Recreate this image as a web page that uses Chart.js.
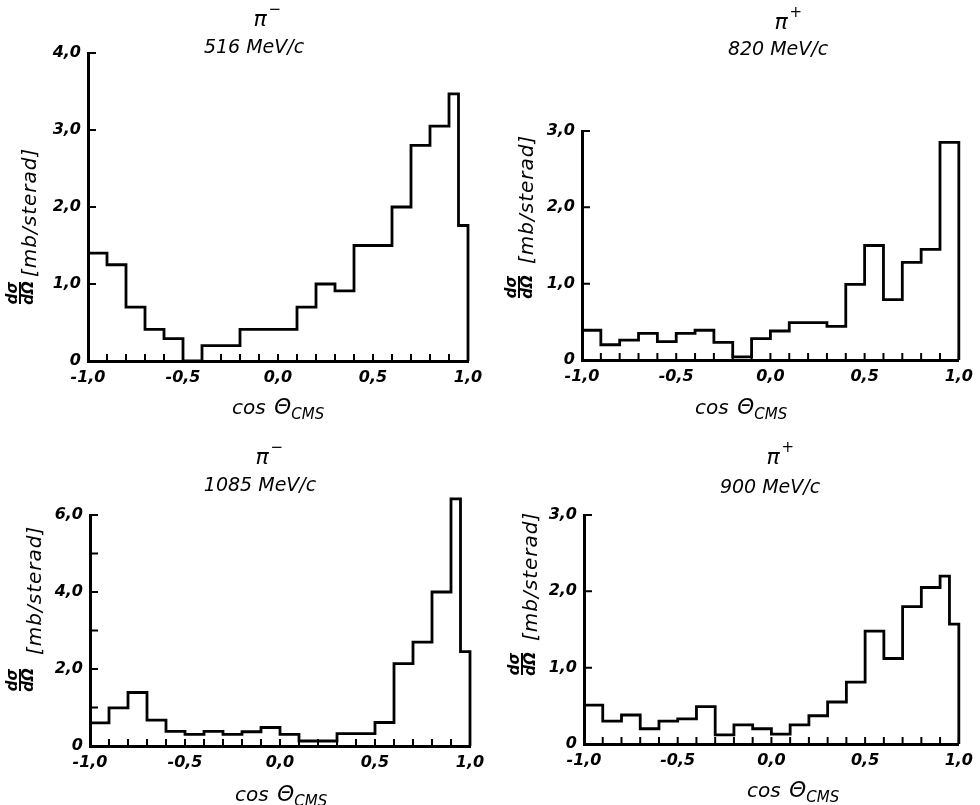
<!DOCTYPE html>
<html>
<head>
<meta charset="utf-8">
<script src="https://cdn.jsdelivr.net/npm/chart.js@4/dist/chart.umd.min.js"></script>
<style>
  body { margin: 0; background: #fff; }
  #wrap { position: relative; width: 980px; height: 805px; }
  canvas { position: absolute; left: 0; top: 0; }
</style>
</head>
<body>
<div id="wrap">
  <canvas id="p516" width="980" height="805"></canvas>
  <canvas id="p820" width="980" height="805"></canvas>
  <canvas id="p1085" width="980" height="805"></canvas>
  <canvas id="p900" width="980" height="805"></canvas>
</div>
<script>
// left edges of the bins (last two bins are half width)
const edgesFine = [-1.0, -0.9, -0.8, -0.7, -0.6, -0.5, -0.4, -0.3, -0.2, -0.1, 0.0,
                   0.1, 0.2, 0.3, 0.4, 0.5, 0.6, 0.7, 0.8, 0.9, 0.95];
const edgesEven = [-1.0, -0.9, -0.8, -0.7, -0.6, -0.5, -0.4, -0.3, -0.2, -0.1, 0.0,
                   0.1, 0.2, 0.3, 0.4, 0.5, 0.6, 0.7, 0.8, 0.9];

// dsigma/dOmega in mb/sterad
const vals516  = [1.40, 1.25, 0.70, 0.41, 0.29, 0.00, 0.20, 0.20, 0.41, 0.41, 0.41,
                  0.70, 1.00, 0.91, 1.50, 1.50, 2.00, 2.80, 3.05, 3.47, 1.76];
const vals820  = [0.39, 0.20, 0.26, 0.35, 0.24, 0.35, 0.39, 0.23, 0.04, 0.28,
                  0.38, 0.49, 0.49, 0.44, 0.99, 1.50, 0.79, 1.28, 1.45, 2.85];
const vals1085 = [0.60, 0.99, 1.39, 0.67, 0.38, 0.30, 0.38, 0.30, 0.37, 0.48, 0.30,
                  0.13, 0.13, 0.32, 0.32, 0.61, 2.14, 2.70, 4.00, 6.42, 2.45];
const vals900  = [0.51, 0.30, 0.38, 0.20, 0.30, 0.33, 0.49, 0.12, 0.25, 0.20, 0.13,
                  0.25, 0.37, 0.55, 0.81, 1.48, 1.12, 1.80, 2.05, 2.20, 1.57];

const xTickValues = [-1, -0.5, 0, 0.5, 1];
const xTickLabels = ['-1,0', '-0,5', '0,0', '0,5', '1,0'];
const yTickValues = [0, 1, 2, 3, 4, 5, 6];
const yTickLabels = ['0', '1,0', '2,0', '3,0', '4,0', '5,0', '6,0'];

const W = 980, H = 805;
const FONT = '"DejaVu Sans", "Liberation Sans", sans-serif';

const panels = {
  p516: {
    particle: 'π', sign: '−', momentum: '516 MeV/c',
    edges: edgesFine, values: vals516, yMax: 4, yLabelEvery: 1,
    area: { left: 88, top: 53, right: 468, bottom: 361 },
    title: { piX: 260, piY: 20, x: 254, y: 48 },
    xTitle: { x: 232, y: 414 },
    yTitle: { x: 36, bottom: 277, barX: 20, fracY: 293 }
  },
  p820: {
    particle: 'π', sign: '+', momentum: '820 MeV/c',
    edges: edgesEven, values: vals820, yMax: 3, yLabelEvery: 1,
    area: { left: 582, top: 131, right: 959, bottom: 360 },
    title: { piX: 781, piY: 23, x: 778, y: 50 },
    xTitle: { x: 695, y: 414 },
    yTitle: { x: 533, bottom: 264, barX: 519, fracY: 287 }
  },
  p1085: {
    particle: 'π', sign: '−', momentum: '1085 MeV/c',
    edges: edgesFine, values: vals1085, yMax: 6, yLabelEvery: 2,
    area: { left: 90, top: 515, right: 470, bottom: 746 },
    title: { piX: 262, piY: 458, x: 260, y: 486 },
    xTitle: { x: 235, y: 801 },
    yTitle: { x: 41, bottom: 655, barX: 20, fracY: 680 }
  },
  p900: {
    particle: 'π', sign: '+', momentum: '900 MeV/c',
    edges: edgesFine, values: vals900, yMax: 3, yLabelEvery: 1,
    area: { left: 584, top: 515, right: 962, bottom: 744 },
    title: { piX: 773, piY: 458, x: 770, y: 488 },
    xTitle: { x: 747, y: 797 },
    yTitle: { x: 537, bottom: 641, barX: 522, fracY: 664 }
  }
};

function labelFor(values, labels, v) {
  const i = values.findIndex(t => Math.abs(t - v) < 1e-6);
  return i < 0 ? '' : labels[i];
}

// small tick marks pointing into the plot
const inwardTicks = {
  id: 'inwardTicks',
  afterDatasetsDraw(chart) {
    const { ctx, chartArea, scales } = chart;
    ctx.save();
    ctx.strokeStyle = '#000';
    ctx.lineWidth = 2;
    ctx.beginPath();
    scales.x.ticks.forEach(t => {
      const px = scales.x.getPixelForValue(t.value);
      ctx.moveTo(px, chartArea.bottom);
      ctx.lineTo(px, chartArea.bottom - 7);
    });
    scales.y.ticks.forEach(t => {
      if (t.value === 0) return;
      const py = scales.y.getPixelForValue(t.value);
      ctx.moveTo(chartArea.left, py);
      ctx.lineTo(chartArea.left + 8, py);
    });
    ctx.stroke();
    ctx.restore();
  }
};

// titles and axis titles
const panelText = {
  id: 'panelText',
  afterDraw(chart) {
    const p = panels[chart.canvas.id];
    const ctx = chart.ctx;
    ctx.save();
    ctx.fillStyle = '#000';

    // title: particle + momentum
    ctx.textBaseline = 'middle';
    ctx.textAlign = 'center';
    ctx.font = 'italic 22px ' + FONT;
    ctx.fillText(p.particle, p.title.piX, p.title.piY);
    const piW = ctx.measureText(p.particle).width;
    ctx.font = 'italic 15px ' + FONT;
    ctx.textAlign = 'left';
    ctx.fillText(p.sign, p.title.piX + piW / 2 + 2, p.title.piY - 10);
    ctx.font = 'italic 19px ' + FONT;
    ctx.textAlign = 'center';
    ctx.fillText(p.momentum, p.title.x, p.title.y);

    // x title: cos Θ_CMS
    ctx.textBaseline = 'alphabetic';
    ctx.textAlign = 'left';
    let x = p.xTitle.x;
    ctx.font = 'italic 20px ' + FONT;
    ctx.fillText('cos', x, p.xTitle.y);
    x += ctx.measureText('cos ').width + 2;
    ctx.font = 'italic 22px ' + FONT;
    ctx.fillText('Θ', x, p.xTitle.y);
    x += ctx.measureText('Θ').width;
    ctx.font = 'italic 15px ' + FONT;
    ctx.fillText('CMS', x, p.xTitle.y + 5);

    // y title: dσ/dΩ [mb/sterad], rotated
    ctx.save();
    ctx.translate(p.yTitle.x, p.yTitle.bottom);
    ctx.rotate(-Math.PI / 2);
    ctx.font = 'italic 20px ' + FONT;
    ctx.letterSpacing = '1px';
    ctx.fillText('[mb/sterad]', 0, 0);
    ctx.restore();

    ctx.save();
    ctx.translate(p.yTitle.barX, p.yTitle.fracY);
    ctx.rotate(-Math.PI / 2);
    ctx.font = 'italic bold 15px ' + FONT;
    ctx.textAlign = 'center';
    ctx.textBaseline = 'alphabetic';
    ctx.fillText('dσ', 0, -3);
    ctx.textBaseline = 'top';
    ctx.fillText('dΩ', 0, 2);
    ctx.fillRect(-11, -1, 22, 2);
    ctx.restore();

    ctx.restore();
  }
};

const tickFont = { family: FONT, size: 16, style: 'italic', weight: 'bold' };

function makeChart(id) {
  const p = panels[id];
  const pts = p.edges.map((x, i) => ({ x: x, y: p.values[i] }));
  pts.push({ x: 1, y: 0 });
  const yW = 40, xH = 30;

  return new Chart(document.getElementById(id), {
    type: 'line',
    data: {
      datasets: [{
        data: pts,
        stepped: true,
        borderColor: '#000',
        borderWidth: 2.8,
        borderJoinStyle: 'miter',
        pointRadius: 0,
        fill: false,
        clip: false
      }]
    },
    options: {
      responsive: false,
      animation: false,
      events: [],
      layout: {
        padding: {
          left: p.area.left - yW,
          top: p.area.top,
          right: W - p.area.right,
          bottom: H - p.area.bottom - xH
        }
      },
      plugins: { legend: { display: false }, tooltip: { enabled: false } },
      scales: {
        x: {
          type: 'linear', min: -1, max: 1,
          afterFit: s => { s.height = xH; },
          grid: { display: true, drawOnChartArea: false, drawTicks: false },
          border: { display: true, color: '#000', width: 3 },
          ticks: {
            stepSize: 0.1, autoSkip: false, maxRotation: 0, padding: 7,
            color: '#000', font: tickFont,
            callback: v => labelFor(xTickValues, xTickLabels, v)
          }
        },
        y: {
          type: 'linear', min: 0, max: p.yMax,
          afterFit: s => { s.width = yW; },
          grid: { display: true, drawOnChartArea: false, drawTicks: false },
          border: { display: true, color: '#000', width: 3 },
          ticks: {
            stepSize: 1, padding: 7, color: '#000', font: tickFont,
            callback: v => (Math.round(v) % p.yLabelEvery === 0)
              ? labelFor(yTickValues, yTickLabels, v) : ''
          }
        }
      }
    },
    plugins: [inwardTicks, panelText]
  });
}

Object.keys(panels).forEach(makeChart);
</script>
</body>
</html>
